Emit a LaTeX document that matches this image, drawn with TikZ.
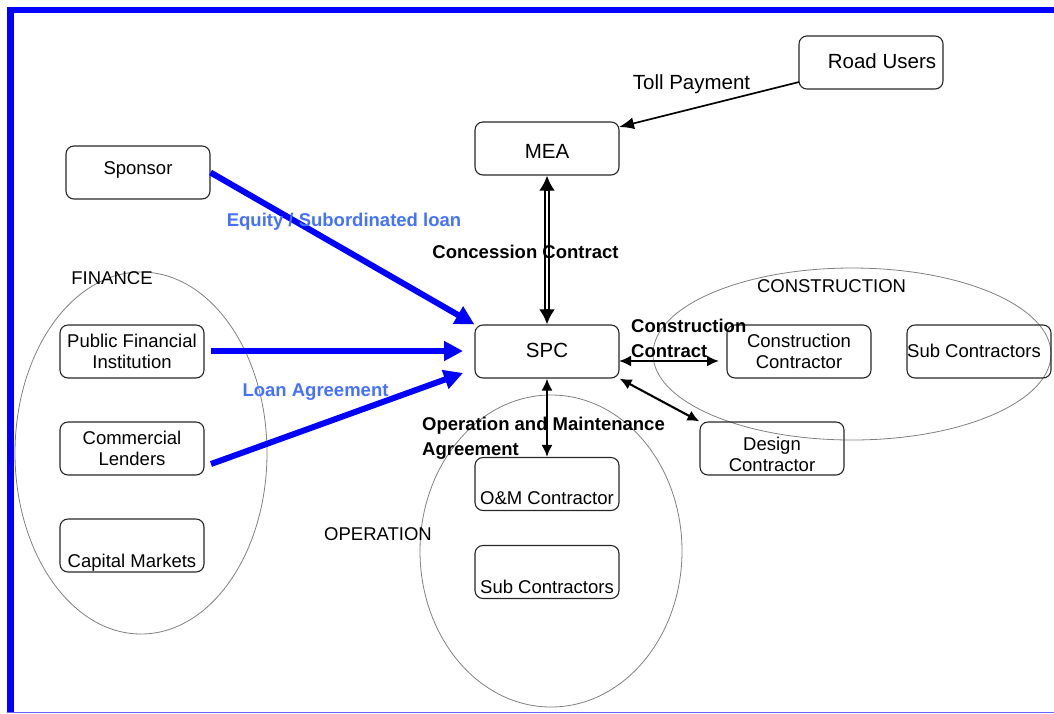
\documentclass[tikz,border=0pt]{standalone}
\usepackage{fontspec}
\setmainfont{Liberation Sans}
\usetikzlibrary{arrows.meta}
\definecolor{lblue}{RGB}{68,114,255}
\definecolor{bord}{RGB}{0,0,255}
\definecolor{bordlight}{RGB}{100,100,255}
\begin{document}
\begin{tikzpicture}[x=1pt,y=-1pt,
  bt/.style={font=\fontsize{18.5}{21}\selectfont},
  btbig/.style={font=\fontsize{20.5}{24}\selectfont},
  box/.style={bt,draw=black!85,line width=1.1pt,rounded corners=8pt,
    minimum width=144pt,minimum height=53pt,inner sep=0pt,align=center},
  bigbox/.style={box,btbig},
  grp/.style={draw=black!50,line width=0.8pt},
  grplbl/.style={bt,inner sep=0pt},
  blbl/.style={font=\bfseries\fontsize{18.5}{25}\selectfont,inner sep=0pt},
  bluelbl/.style={blbl,text=lblue},
  barrow/.style={draw=bord,line width=6pt,-{Triangle[length=19pt,width=19pt]}},
  darrow/.style={line width=2.1pt,{Latex[length=12pt,width=11pt]}-{Latex[length=12pt,width=11pt]}},
  sarrow/.style={line width=1.7pt,-{Latex[length=15pt,width=12pt]}},
]
\useasboundingbox (0,0) rectangle (1054,713);
% frame
\draw[bord,line width=6.5pt] (7,10) -- (1054,10);
\draw[bord,line width=6.5pt] (10.6,7) -- (10.6,713);
\draw[bordlight,line width=1.5pt] (7,712.3) -- (1054,712.3);

% groups
\draw[grp] (141,453) ellipse [x radius=126pt, y radius=181pt];
\draw[grp] (551,551) ellipse [x radius=131pt, y radius=156pt];
\draw[grp] (852,354) ellipse [x radius=199pt, y radius=86pt];
\node[grplbl] (lfin) at (112,278) {FINANCE};
\node[grplbl] (lcon) at (831.5,286) {CONSTRUCTION};
\node[grplbl] (lop) at (378,534) {OPERATION};

% boxes
\node[bigbox] (ru) at (871,62.5) {};
\node[btbig] (rutxt) at (882,61) {Road Users};
\node[bigbox] (mea) at (547,148.5) {};
\node[btbig] (meatxt) at (547,151.5) {MEA};
\node[bigbox] (spc) at (547,351.5) {};
\node[btbig] (spctxt) at (547,350.5) {SPC};
\node[box] (sp) at (138,172.5) {};
\node[bt] (sptxt) at (138,170) {Sponsor};
\node[box] (pfi) at (132,351.5) {Public Financial\\Institution};
\node[box] (cl) at (132,448.5) {Commercial\\Lenders};
\node[box] (cm) at (132,545.5) {};
\node[bt] (cmtxt) at (132,562.5) {Capital Markets};
\node[box] (om) at (547,484) {};
\node[bt] (omtxt) at (547,498.5) {O\&M Contractor};
\node[box] (sub1) at (547,572) {};
\node[bt] (sub1txt) at (547,586.5) {Sub Contractors};
\node[box] (cc) at (799,351.5) {Construction\\Contractor};
\node[box] (sub2) at (979,351.5) {};
\node[bt] (sub2txt) at (974,350.5) {Sub Contractors};
\node[box] (dc) at (772,448.5) {};
\node[bt,align=center] (dctxt) at (772,454) {Design\\Contractor};

% coordinates for free ends
\coordinate (rus) at (799,82);
\coordinate (meat) at (619,127);
\coordinate (cls) at (211,464);
\coordinate (clt) at (463,373);
\coordinate (pfis) at (211,351);
\coordinate (pfit) at (463,351);
\coordinate (spcr) at (619,361);
\coordinate (cca) at (719,361);

% blue arrows
\draw[barrow] (sp.east) -- (spc.north west);
\draw[barrow] (pfis) -- (pfit);
\draw[barrow] (cls) -- (clt);

% black arrows
\draw[sarrow] (rus) -- (meat);
\draw[line width=6.6pt,{Latex[length=15pt,width=16pt]}-{Latex[length=15pt,width=16pt]}] (mea.south) -- (spc.north);
\draw[white,line width=2.4pt,shorten <=15pt,shorten >=15pt] (mea.south) -- (spc.north);
\draw[darrow] (spc.south) -- (om.north);
\draw[darrow] (spcr) -- (cca);
\draw[darrow] (spc.south east) -- (dc.north west);

% labels
\node[btbig,inner sep=0pt] (ltoll) at (691.5,84) {Toll Payment};
\node[bluelbl] (leq) at (344,222) {Equity / Subordinated loan};
\node[bluelbl] (lloan) at (315.5,392.5) {Loan Agreement};
\node[blbl] (lconc) at (525.5,252) {Concession Contract};
\node[blbl,align=left,anchor=west] (lcc) at (631,338.5) {Construction\\Contract};
\node[blbl,align=left,anchor=west] (lom) at (422,438.5) {Operation and Maintenance\\Agreement};
\end{tikzpicture}
\end{document}
